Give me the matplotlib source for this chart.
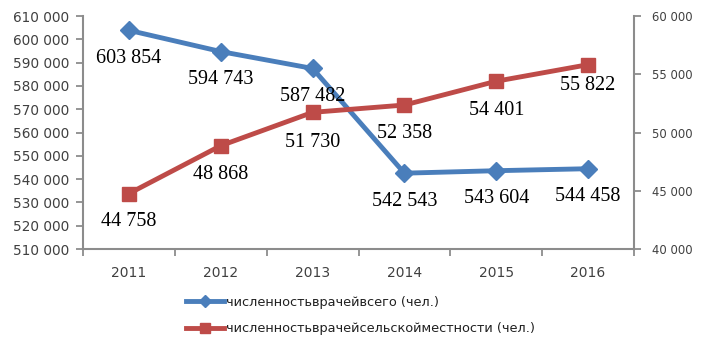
import matplotlib
matplotlib.use("Agg")
import matplotlib.pyplot as plt
from matplotlib.ticker import FuncFormatter, FixedLocator

# Data
years = ["2011", "2012", "2013", "2014", "2015", "2016"]
doctors_total = [603854, 594743, 587482, 542543, 543604, 544458]
doctors_rural = [44758, 48868, 51730, 52358, 54401, 55822]
label_total = "численностьврачейвсего (чел.)"
label_rural = "численностьврачейсельскойместности (чел.)"

left_ticks = list(range(510000, 610001, 10000))
right_ticks = list(range(40000, 60001, 5000))

BLUE = "#4a7ebb"
RED = "#be4b48"
SPINE = "#8c8c8c"
TICKTXT = "#404040"

def spaced(v, _pos=None):
    return f"{v:,.0f}".replace(",", " ")

W, H = 701, 344
fig = plt.figure(figsize=(W / 100, H / 100), dpi=100)
ax1 = fig.add_axes([83 / W, 1 - 249 / H, (634 - 83) / W, (249 - 16) / H])
ax2 = ax1.twinx()

x = list(range(len(years)))
l1, = ax1.plot(x, doctors_total, color=BLUE, lw=3.5, marker="D", ms=9,
               solid_joinstyle="round", label=label_total)
l2, = ax2.plot(x, doctors_rural, color=RED, lw=3.5, marker="s", ms=10,
               solid_joinstyle="round", label=label_rural)

ax1.set_xlim(-0.5, len(years) - 0.5)
ax1.set_ylim(left_ticks[0], left_ticks[-1])
ax2.set_ylim(right_ticks[0], right_ticks[-1])
ax1.set_yticks(left_ticks)
ax2.set_yticks(right_ticks)
ax1.yaxis.set_major_formatter(FuncFormatter(spaced))
ax2.yaxis.set_major_formatter(FuncFormatter(spaced))

# category axis: tick marks between categories, labels at centres
ax1.xaxis.set_major_locator(FixedLocator([i - 0.5 for i in range(len(years) + 1)]))
ax1.xaxis.set_minor_locator(FixedLocator(x))
ax1.set_xticklabels([])
ax1.set_xticklabels(years, minor=True)
ax1.tick_params(axis="x", which="major", length=5, width=1.3, color=SPINE, direction="out")
ax1.tick_params(axis="x", which="minor", length=0, pad=12, labelsize=10, labelcolor=TICKTXT)

ax1.tick_params(axis="y", length=5, width=1.3, color=SPINE, pad=5,
                labelsize=9.8, labelcolor=TICKTXT)
ax2.tick_params(axis="y", length=5, width=1.3, color=SPINE, pad=8,
                labelsize=8.4, labelcolor=TICKTXT)

for ax in (ax1, ax2):
    ax.spines["top"].set_visible(False)
    for s in ("left", "right", "bottom"):
        ax.spines[s].set_color(SPINE)
        ax.spines[s].set_linewidth(1.5)
ax1.spines["right"].set_visible(False)
ax2.spines["left"].set_visible(False)
ax2.spines["bottom"].set_visible(False)

# data labels below each point
lab_font = dict(family="Liberation Serif", size=14.5, color="black",
                ha="center", va="center")
for i, v in enumerate(doctors_total):
    ax2.annotate(spaced(v), xy=(i, v), xycoords=ax1.transData,
                 xytext=(0, -28), textcoords="offset pixels", **lab_font)
rural_dy = [-28, -29, -30, -28, -29, -21]
for i, v in enumerate(doctors_rural):
    ax2.annotate(spaced(v), xy=(i, v), xycoords=ax2.transData,
                 xytext=(0, rural_dy[i]), textcoords="offset pixels", **lab_font)

fig.legend([l1, l2], [label_total, label_rural], loc="upper left",
           bbox_to_anchor=(174 / W, 1 - 284 / H), frameon=False,
           handlelength=3.0, handletextpad=0.1, labelspacing=1.05,
           prop=dict(family="DejaVu Sans", size=9.3), labelcolor="#202020",
           markerscale=0.7)

fig.savefig("out.png", dpi=100, facecolor="white")
